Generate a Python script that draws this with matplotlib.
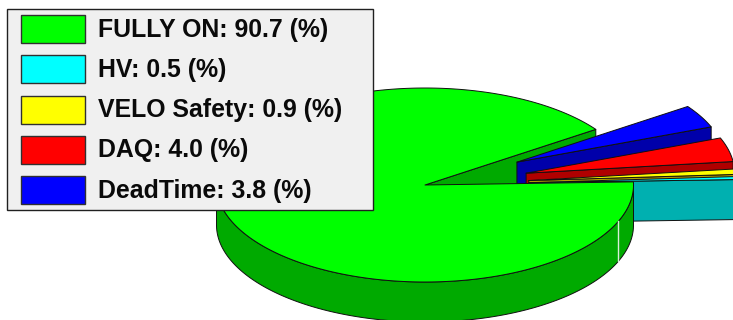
import numpy as np
import matplotlib
matplotlib.use('Agg')
import matplotlib.pyplot as plt
from matplotlib.patches import Polygon, Rectangle

labels = ['FULLY ON', 'HV', 'VELO Safety', 'DAQ', 'DeadTime']
values = [90.7, 0.5, 0.9, 4.0, 3.8]
explode = [0.0, 0.5, 0.5, 0.5, 0.5]
colors = ['#00ff00', '#00ffff', '#ffff00', '#ff0000', '#0000ff']
dark_colors = ['#00aa00', '#00b0b0', '#b0a000', '#b00000', '#0000aa']

# pie geometry in pixels
cx, cy = 425, 185
rx, ry = 208.5, 97
depth = 40
start_angle = 35.0
seam_angle = -22


def arc(a0, a1, off_x, off_y, drop=0):
    t = np.radians(np.linspace(a0, a1, max(int(abs(a1 - a0)), 2) + 1))
    return np.column_stack([cx + off_x + rx * np.cos(t),
                            cy + off_y - ry * np.sin(t) + drop])


def draw_shape(ax, pts, color, z):
    ax.add_patch(Polygon(pts, closed=True, facecolor=color, edgecolor='#101010',
                         linewidth=0.7, zorder=z, joinstyle='round'))


def draw_side_cut(ax, a, off_x, off_y, color, z):
    apex = np.array([cx + off_x, cy + off_y])
    rim = arc(a, a, off_x, off_y)[0]
    draw_shape(ax, [apex, rim, rim + [0, depth], apex + [0, depth]], color, z)


fig = plt.figure(figsize=(7.33, 3.2), dpi=100)
ax = fig.add_axes([0, 0, 1, 1])
ax.set_xlim(0, 733)
ax.set_ylim(320, 0)
ax.axis('off')

shares = np.array(values) / sum(values) * 360
edges = start_angle + np.concatenate([[0], np.cumsum(shares)])

# the big slice keeps its cut face behind the exploded ones
draw_side_cut(ax, edges[0], 0, 0, dark_colors[0], 1)

# exploded slices, back to front; their rims face away so only the cut shows
z = 2
for i in [4, 3, 2, 1]:
    a0, a1 = edges[i], edges[i + 1]
    mid = np.radians((a0 + a1) / 2)
    off_x = explode[i] * rx * np.cos(mid)
    off_y = -explode[i] * ry * np.sin(mid)
    draw_side_cut(ax, a0, off_x, off_y, dark_colors[i], z)
    apex = [[cx + off_x, cy + off_y]]
    draw_shape(ax, np.vstack([apex, arc(a0, a1, off_x, off_y)]), colors[i], z)
    z += 1

# rim of the big slice, front half only
front = np.vstack([arc(180, 360, 0, 0), arc(180, 360, 0, 0, depth)[::-1]])
draw_shape(ax, front, dark_colors[0], 10)
top_pts = np.vstack([[[cx, cy]], arc(edges[0], edges[1], 0, 0)])
draw_shape(ax, top_pts, colors[0], 11)

# thin light seam on the rim
seam = arc(seam_angle, seam_angle, 0, 0)[0]
ax.plot([seam[0], seam[0]], [seam[1], seam[1] + depth], color='#d8f0d8',
        linewidth=1.0, zorder=12)

# legend box
ax.add_patch(Rectangle((7, 9), 366, 201, facecolor='#f0f0f0', edgecolor='#202020',
                       linewidth=1.0, zorder=20))
for i, (name, val) in enumerate(zip(labels, values)):
    y = 15 + i * 40.3
    ax.add_patch(Rectangle((21, y), 64, 28, facecolor=colors[i], edgecolor='#303030',
                           linewidth=1.0, zorder=21))
    ax.text(98, y + 14.5, f'{name}: {val} (%)', fontsize=17.9, fontweight='bold',
            family='Liberation Sans', va='center', ha='left', color='#0a0a0a', zorder=21)

fig.savefig('out.png', dpi=100)
